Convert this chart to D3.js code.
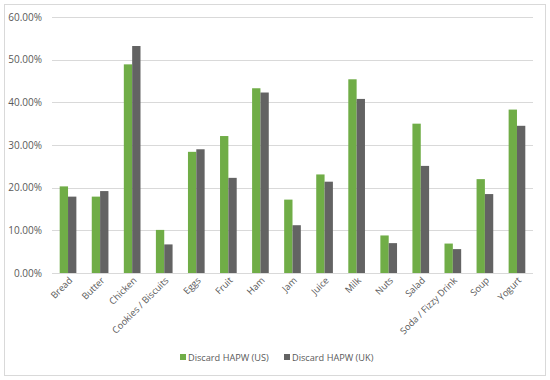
<!DOCTYPE html>
<html>
<head>
<meta charset="utf-8">
<script src="https://cdn.jsdelivr.net/npm/d3@7"></script>
<style>
  body { margin: 0; background: #fff; }
  text { font-family: "Open Sans", "Noto Sans", sans-serif; fill: #595959; }
</style>
</head>
<body>
<div id="chart"></div>
<script>
// food categories along the x axis
const categories = ["Bread", "Butter", "Chicken", "Cookies / Biscuits", "Eggs", "Fruit", "Ham",
  "Jam", "Juice", "Milk", "Nuts", "Salad", "Soda / Fizzy Drink", "Soup", "Yogurt"];

// share discarded, in percent
const usValues = [20.3, 17.9, 48.9, 10.1, 28.4, 32.1, 43.3, 17.2, 23.1, 45.4, 8.8, 35.0, 6.9, 22.0, 38.3];
const ukValues = [17.9, 19.2, 53.2, 6.7, 29.0, 22.3, 42.3, 11.2, 21.4, 40.8, 7.0, 25.1, 5.6, 18.5, 34.5];

const seriesNames = ["Discard HAPW (US)", "Discard HAPW (UK)"];
const yTicks = [0, 10, 20, 30, 40, 50, 60];

const width = 550, height = 380;
const margin = { top: 17, right: 17, bottom: 107, left: 52 };
const colors = ["#70ad47", "#636363"];

const svg = d3.select("#chart").append("svg")
  .attr("width", width)
  .attr("height", height);

// outer frame
svg.append("rect")
  .attr("x", 4.5).attr("y", 4.5)
  .attr("width", 541).attr("height", 371)
  .attr("fill", "#fff")
  .attr("stroke", "#d9d9d9");

const x = d3.scaleBand()
  .domain(categories)
  .range([margin.left, width - margin.right])
  .paddingInner(0.48)
  .paddingOuter(0.24);

const xSub = d3.scaleBand()
  .domain(seriesNames)
  .range([0, x.bandwidth()]);

const y = d3.scaleLinear()
  .domain([0, 60])
  .range([height - margin.bottom, margin.top]);

// gridlines
svg.append("g")
  .selectAll("line")
  .data(yTicks)
  .join("line")
  .attr("x1", margin.left)
  .attr("x2", width - margin.right)
  .attr("y1", d => Math.round(y(d)) + 0.5)
  .attr("y2", d => Math.round(y(d)) + 0.5)
  .attr("stroke", "#d9d9d9")
  .attr("stroke-width", 1);

// y labels
const yAxis = svg.append("g")
  .attr("transform", `translate(${margin.left},0)`)
  .call(d3.axisLeft(y).tickValues(yTicks).tickSize(0).tickPadding(10)
    .tickFormat(d => d.toFixed(2) + "%"));
yAxis.select(".domain").remove();
yAxis.selectAll("text")
  .style("font-size", "10px")
  .style("fill", "#595959");

// bars
const rows = categories.map((c, i) => ({ cat: c, vals: [usValues[i], ukValues[i]] }));
const groups = svg.append("g")
  .selectAll("g")
  .data(rows)
  .join("g")
  .attr("transform", d => `translate(${x(d.cat)},0)`);

groups.selectAll("rect")
  .data(d => d.vals.map((v, k) => ({ name: seriesNames[k], v, k })))
  .join("rect")
  .attr("x", d => xSub(d.name))
  .attr("width", xSub.bandwidth())
  .attr("y", d => y(d.v))
  .attr("height", d => y(0) - y(d.v))
  .attr("fill", d => colors[d.k]);

// x labels, rotated
const xAxis = svg.append("g")
  .attr("transform", `translate(0,${y(0)})`)
  .call(d3.axisBottom(x).tickSize(0).tickPadding(0));
xAxis.select(".domain").remove();
xAxis.selectAll("text")
  .style("font-size", "9.3px")
  .style("fill", "#595959")
  .attr("text-anchor", "end")
  .attr("dy", null)
  .attr("transform", "translate(5,8) rotate(-45)");

// legend
const legend = svg.append("g");
const legendX = [180, 284];
seriesNames.forEach((name, k) => {
  legend.append("rect")
    .attr("x", legendX[k]).attr("y", 354)
    .attr("width", 6).attr("height", 6)
    .attr("fill", colors[k]);
  legend.append("text")
    .attr("x", legendX[k] + 8).attr("y", 361)
    .style("font-size", "9.2px")
    .text(name);
});
</script>
</body>
</html>
